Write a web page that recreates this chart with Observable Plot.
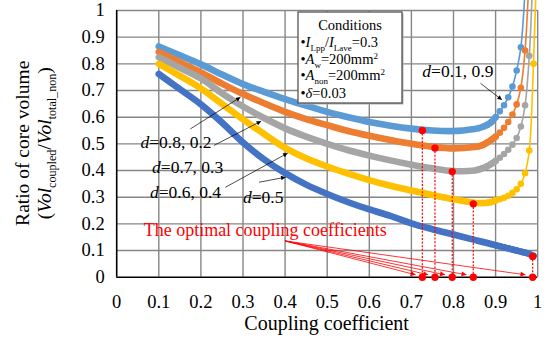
<!DOCTYPE html>
<html><head><meta charset="utf-8">
<script src="https://cdn.jsdelivr.net/npm/d3@7"></script>
<script src="https://cdn.jsdelivr.net/npm/@observablehq/plot@0.6"></script>
<style>
body{margin:0;background:#fff;}
#chart svg{display:block;}
</style></head><body><div id="chart"></div>
<script>
// ---------- data ----------
const coupling = [0.10,0.15,0.20,0.25,0.30,0.35,0.40,0.45,0.50,0.55,0.60,0.65,0.70,0.75,0.80,0.85,
  0.86,0.87,0.88,0.89,0.90,0.91,0.92,0.93,0.94,0.95,0.96,0.97,0.98,0.99,1.00];
const ratioD19 = [0.865,0.832,0.798,0.760,0.724,0.695,0.668,0.643,0.620,0.600,0.582,0.568,0.557,0.550,0.548,0.556,
  0.559,0.564,0.571,0.582,0.600,0.622,0.645,0.675,0.715,0.775,0.862,1.080,null,null,null];
const ratioD28 = [0.845,0.806,0.768,0.726,0.687,0.652,0.620,0.593,0.570,0.548,0.530,0.514,0.500,0.489,0.483,0.488,
  0.491,0.496,0.505,0.515,0.527,0.542,0.560,0.582,0.610,0.648,0.710,0.850,1.150,null,null];
const ratioD37 = [0.825,0.785,0.745,0.690,0.640,0.597,0.558,0.527,0.500,0.476,0.456,0.438,0.422,0.408,0.398,0.400,
  0.404,0.409,0.416,0.425,0.436,0.448,0.462,0.478,0.497,0.522,0.565,0.645,0.830,1.200,null];
const ratioD46 = [0.800,0.755,0.708,0.650,0.592,0.537,0.485,0.446,0.415,0.388,0.364,0.343,0.325,0.308,0.292,0.279,
  0.278,0.278,0.279,0.282,0.288,0.292,0.298,0.305,0.316,0.330,0.350,0.390,0.475,0.800,1.300];
const ratioD5 = [0.762,0.705,0.648,0.580,0.505,0.442,0.390,0.347,0.312,0.281,0.254,0.230,0.202,0.180,0.160,0.140,
  0.136,0.132,0.128,0.124,0.120,0.116,0.112,0.108,0.104,0.100,0.096,0.092,0.087,0.080,null];
const seriesNames = ["d=0.1, 0.9","d=0.8, 0.2","d=0.7, 0.3","d=0.6, 0.4","d=0.5"];
const seriesColors = ["#5B9BD5","#ED7D31","#A5A5A5","#FFC000","#4472C4"];
const optimalK = [0.726,0.756,0.797,0.847,0.988];
const optimalRatio = [0.550,0.484,0.396,0.275,0.078];
const xTicks = [0,0.1,0.2,0.3,0.4,0.5,0.6,0.7,0.8,0.9,1];
const yTicks = [0,0.1,0.2,0.3,0.4,0.5,0.6,0.7,0.8,0.9,1];
// curve labels (left edge, vertical centre) and their arrows
const labelX = [0.726,0.0565,0.084,0.079,0.300];
const labelY = [0.772,0.506,0.412,0.319,0.300];
const arrowFromX = [0.864,0.175,0.231,0.258,0.338];
const arrowFromY = [0.727,0.556,0.494,0.337,0.356];
const arrowToX = [0.915,0.294,0.343,0.406,0.401];
const arrowToY = [0.665,0.675,0.585,0.465,0.375];
// red annotation
const noteText = ["The optimal coupling coefficients"];
const noteX = [0.064];
const noteY = [0.175];
const redArrowStart = [0.400,0.136];
const redArrowEndX = [0.710,0.740,0.780,0.831,0.971];
const redArrowEndY = [0.009,0.009,0.009,0.009,0.009];
// legend
const legendLines = [
  [{t:"Conditions"}],
  [{t:"•"},{t:"I",i:1},{t:"Lpp",sub:1},{t:"/"},{t:"I",i:1},{t:"Lave",sub:1},{t:"=0.3"}],
  [{t:"•"},{t:"A",i:1},{t:"w",sub:1},{t:"=200mm"},{t:"2",sup:1}],
  [{t:"•"},{t:"A",i:1},{t:"non",sub:1},{t:"=200mm"},{t:"2",sup:1}],
  [{t:"•"},{t:"δ",i:1},{t:"=0.03"}]
];
const xTitle = "Coupling coefficient";
const yTitle1 = "Ratio of core volume";
const yTitle2 = [{t:"("},{t:"Vol",i:1},{t:"coupled",sub:1},{t:"/"},{t:"Vol",i:1},{t:"total_non",sub:1},{t:")"}];

// ---------- chart ----------
const FONT = "'Liberation Serif','Times New Roman',Times,serif";
const seriesValues = [ratioD19,ratioD28,ratioD37,ratioD46,ratioD5];
const marks = [];
marks.push(Plot.ruleX(xTicks.slice(1), {stroke:"#868686", strokeWidth:1.4}));
marks.push(Plot.ruleY(yTicks.slice(1), {stroke:"#868686", strokeWidth:1.4}));
marks.push(Plot.ruleX([0], {stroke:"#000", strokeWidth:1.6}));
marks.push(Plot.ruleY([0], {stroke:"#000", strokeWidth:1.6}));

seriesValues.forEach((vals, si) => {
  const col = seriesColors[si];
  const pts = coupling.map((k,i) => ({k, r: vals[i]})).filter(d => d.r != null);
  const denseLimit = si === 4 ? 1.01 : 0.905;
  marks.push(Plot.line(pts, {x:"k", y:"r", stroke:col, strokeWidth:1.6, curve:"catmull-rom"}));
  marks.push(Plot.line(pts.filter(d => d.k <= denseLimit), {x:"k", y:"r", stroke:col, strokeWidth:6.6, curve:"catmull-rom", strokeLinecap:"round"}));
  marks.push(Plot.dot(pts.filter(d => d.k >= 0.855), {x:"k", y:"r", r:3.3, fill:col}));
});

const idx5 = [0,1,2,3,4];
marks.push(Plot.ruleX(idx5, {x: i => optimalK[i], y1: i => optimalRatio[i], y2: () => 0, stroke:"#ff0000", strokeWidth:1.2, strokeDasharray:"2,1.6"}));
marks.push(Plot.link(idx5, {x1: () => redArrowStart[0], y1: () => redArrowStart[1], x2: i => redArrowEndX[i], y2: i => redArrowEndY[i], stroke:"#ff0000", strokeWidth:0.8}));
marks.push(Plot.dot(idx5, {x: i => optimalK[i], y: i => optimalRatio[i], r:3.7, fill:"#ff0000"}));
marks.push(Plot.dot(idx5, {x: i => optimalK[i], y: () => 0, r:3.7, fill:"#ff0000"}));
marks.push(Plot.link(idx5, {x1: i => arrowFromX[i], y1: i => arrowFromY[i], x2: i => arrowToX[i], y2: i => arrowToY[i], stroke:"#000", strokeWidth:0.7}));
marks.push(Plot.text(idx5, {x: i => labelX[i], y: i => labelY[i], text: i => seriesNames[i], textAnchor:"start", fontSize:17.5, fill:"#000"}));
marks.push(Plot.text([0], {x: i => noteX[i], y: i => noteY[i], text: i => noteText[i], textAnchor:"start", fontSize:18, fill:"#ff0000"}));

const plot = Plot.plot({
  width: 546, height: 338,
  marginLeft: 116.2, marginRight: 8.8, marginTop: 10, marginBottom: 61.3,
  style: {fontFamily: FONT, fontSize: "18.5px", color: "#000", background: "#fff", overflow: "visible"},
  x: {domain:[0,1], ticks: xTicks, tickFormat: d => String(d), tickSize: 0, tickPadding: 18, label: null},
  y: {domain:[0,1], ticks: yTicks, tickFormat: d => String(d), tickSize: 0, tickPadding: 12, label: null},
  marks
});
document.getElementById("chart").append(plot);

// ---------- post-processing: arrowheads, rich text ----------
const svg = d3.select(plot);
const defs = svg.insert("defs", ":first-child");
function addMarker(id, color, len, wid) {
  defs.append("marker").attr("id", id).attr("viewBox", "0 0 10 10").attr("refX", 10).attr("refY", 5)
    .attr("markerWidth", len).attr("markerHeight", wid).attr("markerUnits", "userSpaceOnUse").attr("orient", "auto")
    .append("path").attr("d", "M0,0L10,5L0,10z").attr("fill", color);
}
addMarker("triBlack", "#000", 6, 4.5);
addMarker("triRed", "#ff0000", 7, 5);
svg.selectAll("g[aria-label='link']").each(function() {
  const g = d3.select(this);
  const s = (g.attr("stroke") || "").toLowerCase();
  const red = s.includes("f00") || s.includes("red");
  g.selectAll("path,line").attr("marker-end", red ? "url(#triRed)" : "url(#triBlack)");
});

function rich(textSel, segs, subShift = 4.5) {
  let shift = 0;
  segs.forEach(s => {
    const ts = textSel.append("tspan").text(s.t);
    if (s.i) ts.attr("font-style", "italic");
    let target = 0;
    if (s.sub) { ts.attr("font-size", "62%"); target = subShift; }
    if (s.sup) { ts.attr("font-size", "62%"); target = -5.5; }
    if (target !== shift) { ts.attr("dy", target - shift); shift = target; }
  });
}
// italic d in curve labels
svg.selectAll("text").each(function() {
  const t = d3.select(this);
  const s = t.text();
  if (/^d=/.test(s) && this.childElementCount === 0) {
    t.text("");
    rich(t, [{t:"d", i:1}, {t:s.slice(1)}]);
  }
});

// legend box
const lg = svg.append("g").attr("font-family", FONT).attr("font-size", 14.5).attr("fill", "#000").attr("text-anchor", "start");
lg.append("rect").attr("x", 299.5).attr("y", 13.5).attr("width", 104).attr("height", 91).attr("fill", "#b0b0b0");
lg.append("rect").attr("x", 298).attr("y", 12).attr("width", 104).attr("height", 91).attr("fill", "#fff").attr("stroke", "#555").attr("stroke-width", 1.3);
const legendY = [30, 47, 64, 80, 97.5];
legendLines.forEach((segs, li) => {
  const t = lg.append("text").attr("y", legendY[li]);
  if (li === 0) t.attr("x", 350).attr("text-anchor", "middle");
  else t.attr("x", 300.5).attr("text-anchor", "start");
  rich(t, segs, 3.5);
});

// axis titles
svg.append("text").attr("x", 326.6).attr("y", 329.5).attr("text-anchor", "middle")
  .attr("font-family", FONT).attr("font-size", 20).attr("fill", "#000").text(xTitle);
const yg = svg.append("g").attr("font-family", FONT).attr("font-size", 19.5).attr("fill", "#000").attr("text-anchor", "middle");
yg.append("text").attr("transform", "translate(29,143.3) rotate(-90)").text(yTitle1);
const y2 = yg.append("text").attr("transform", "translate(51,143.3) rotate(-90)");
rich(y2, yTitle2);
</script></body></html>
